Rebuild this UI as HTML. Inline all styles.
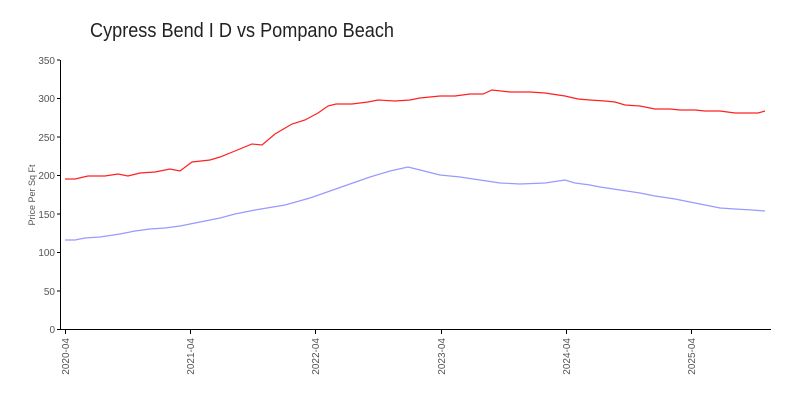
<!DOCTYPE html>
<html><head><meta charset="utf-8"><style>
html,body{margin:0;padding:0;background:#fff;}
svg{display:block;font-family:"Liberation Sans",sans-serif;}
</style></head><body>
<svg width="800" height="400" viewBox="0 0 800 400" xmlns="http://www.w3.org/2000/svg">
<rect width="800" height="400" fill="#fff"/>
<text x="90" y="37" font-size="20" fill="#222" font-weight="300" textLength="304" lengthAdjust="spacingAndGlyphs">Cypress Bend I D vs Pompano Beach</text>
<g stroke="#ccc" stroke-width="1" id="minor"></g>
<line x1="60.5" y1="60" x2="60.5" y2="330" stroke="#000"/>
<line x1="60" y1="329.5" x2="771" y2="329.5" stroke="#000"/>
<g stroke="#000">
<line x1="57" y1="329.5" x2="60" y2="329.5"/><line x1="57" y1="291" x2="60" y2="291"/><line x1="57" y1="252.5" x2="60" y2="252.5"/><line x1="57" y1="214" x2="60" y2="214"/><line x1="57" y1="175.5" x2="60" y2="175.5"/><line x1="57" y1="137" x2="60" y2="137"/><line x1="57" y1="98.5" x2="60" y2="98.5"/><line x1="57" y1="60" x2="60" y2="60"/>
<line x1="65.5" y1="329" x2="65.5" y2="334"/><line x1="190.5" y1="329" x2="190.5" y2="334"/><line x1="315.5" y1="329" x2="315.5" y2="334"/><line x1="441.5" y1="329" x2="441.5" y2="334"/><line x1="566.5" y1="329" x2="566.5" y2="334"/><line x1="691.5" y1="329" x2="691.5" y2="334"/>
</g>
<g font-size="10" fill="#555" text-anchor="end">
<text x="55" y="333">0</text><text x="55" y="295">50</text><text x="55" y="256">100</text><text x="55" y="218">150</text><text x="55" y="179">200</text><text x="55" y="141">250</text><text x="55" y="102">300</text><text x="55" y="64">350</text>
</g>
<text transform="translate(35,195) rotate(-90)" font-size="9" fill="#555" text-anchor="middle">Price Per Sq Ft</text>
<g font-size="10" fill="#555" text-anchor="end">
<text transform="translate(69,338) rotate(-90)">2020-04</text>
<text transform="translate(194,338) rotate(-90)">2021-04</text>
<text transform="translate(319,338) rotate(-90)">2022-04</text>
<text transform="translate(445,338) rotate(-90)">2023-04</text>
<text transform="translate(570,338) rotate(-90)">2024-04</text>
<text transform="translate(695,338) rotate(-90)">2025-04</text>
</g>
<polyline fill="none" stroke="#ff2020" stroke-width="1.2" points="65,179 75,179 88,176 105,176 118,174 128,176 140,173 155,172 170,169 180,171 192,162 210,160 220,157 235,151 252,144 262,145 275,134 292,124 305,120 318,113 328,106 336,104 352,104 368,102 378,100 395,101 410,100 420,98 440,96 455,96 470,94 483,94 492,90 510,92 530,92 545,93 565,96 578,99 590,100 605,101 615,102 625,105 640,106 655,109 670,109 680,110 695,110 705,111 720,111 735,113 750,113 758,113 765,111"/>
<polyline fill="none" stroke="#9999ff" stroke-width="1.2" points="65,240 75,240 85,238 100,237 120,234 135,231 150,229 165,228 180,226 195,223 220,218 235,214 255,210 285,205 310,198 330,191 350,184 370,177 390,171 408,167 420,170 440,175 460,177 480,180 500,183 520,184 545,183 565,180 575,183 590,185 600,187 620,190 640,193 655,196 675,199 690,202 705,205 720,208 735,209 752,210 765,211"/>
<script>
var g=document.getElementById('minor');var s='';
for(var i=0;i<68;i++){var x=65.5+i*10.44;if(i%12==0)continue;s+='<line x1="'+x.toFixed(1)+'" y1="330" x2="'+x.toFixed(1)+'" y2="333"/>';}
g.innerHTML=s;
</script>
</svg>
</body></html>
